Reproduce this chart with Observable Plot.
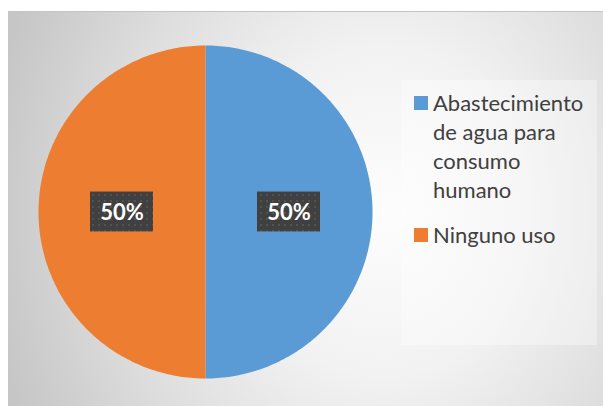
<!DOCTYPE html>
<html><head><meta charset="utf-8">
<script src="https://cdn.jsdelivr.net/npm/d3@7"></script>
<script src="https://cdn.jsdelivr.net/npm/@observablehq/plot@0.6"></script>
<style>
html,body{margin:0;padding:0;background:#fff;}
#wrap{position:relative;width:603px;height:406px;overflow:hidden;font-family:Lato,sans-serif;}
#bg{position:absolute;left:8px;top:11px;width:595px;height:395px;border-top:1px solid #c4c4c4;
  background:radial-gradient(ellipse 400px 470px at 375px 200px,#fdfdfd 0%,#f2f2f2 35%,#dcdcdc 70%,#c6c6c6 100%);}
#chart{position:absolute;left:0;top:0;}
#legend{position:absolute;left:401px;top:80px;width:196px;height:265px;background:rgba(255,255,255,0.35);box-sizing:border-box;padding-top:8px;}
.item{position:relative;margin-left:32px;width:160px;font-size:22px;line-height:29px;color:#404040;margin-bottom:16px;}
.sw{position:absolute;left:-19px;top:8px;width:14px;height:14px;}
g[aria-label="label-box"]{filter:drop-shadow(3px 4px 3.5px rgba(0,0,0,0.6));}
</style>
</head><body>
<div id="wrap"><div id="bg"></div><div id="chart"></div><div id="legend"></div></div>
<script>
const categories = ["Abastecimiento de agua para consumo humano", "Ninguno uso"];
const values = [50, 50];
const colors = ["#5B9BD5", "#ED7D31"];

const data = categories.map((c, i) => ({category: c, value: values[i], color: colors[i]}));
const total = d3.sum(values);
const arcs = d3.pie().sort(null).value(d => d.value)(data);

// polygon points of each slice on a unit circle (angle clockwise from 12 o'clock)
const slicePts = arcs.map(a => {
  const pts = [{x: 0, y: 0}];
  const n = 180;
  for (let k = 0; k <= n; k++) {
    const t = a.startAngle + (a.endAngle - a.startAngle) * k / n;
    pts.push({x: Math.sin(t), y: Math.cos(t)});
  }
  pts.push({x: 0, y: 0});
  return pts;
});

const labels = arcs.map(a => {
  const m = (a.startAngle + a.endAngle) / 2;
  return {x: 0.5 * Math.sin(m), y: 0.5 * Math.cos(m), text: Math.round(a.data.value / total * 100) + "%"};
});

const R_PX = 167, BOX_W = 63, BOX_H = 40;
const hw = BOX_W / 2 / R_PX, hh = BOX_H / 2 / R_PX;

const defs = () => {
  const g = d3.create("svg:g");
  const p = g.append("defs").append("pattern").attr("id", "dots")
    .attr("width", 6).attr("height", 6).attr("patternUnits", "userSpaceOnUse");
  p.append("rect").attr("width", 6).attr("height", 6).attr("fill", "#404040");
  p.append("rect").attr("x", 2).attr("y", 2).attr("width", 2).attr("height", 2).attr("fill", "#525252");
  return g.node();
};

const plot = Plot.plot({
  width: 603, height: 406,
  marginLeft: 38, marginRight: 231, marginTop: 45, marginBottom: 28,
  x: {domain: [-1, 1], axis: null},
  y: {domain: [-1, 1], axis: null},
  style: {background: "transparent", fontFamily: "Lato, sans-serif", overflow: "visible"},
  marks: [
    defs,
    ...slicePts.map((pts, i) => Plot.line(pts, {x: "x", y: "y", fill: colors[i], stroke: "none"})),
    Plot.rect(labels, {x1: d => d.x - hw, x2: d => d.x + hw, y1: d => d.y - hh, y2: d => d.y + hh,
      fill: "url(#dots)", ariaLabel: "label-box"}),
    Plot.text(labels, {x: "x", y: "y", text: "text", fill: "white", fontSize: 22, fontWeight: "bold", dy: 1})
  ]
});
document.getElementById("chart").appendChild(plot);

const legend = d3.select("#legend");
data.forEach(d => {
  const it = legend.append("div").attr("class", "item");
  it.append("div").attr("class", "sw").style("background", d.color);
  it.append("span").text(d.category);
});
</script>
</body></html>
